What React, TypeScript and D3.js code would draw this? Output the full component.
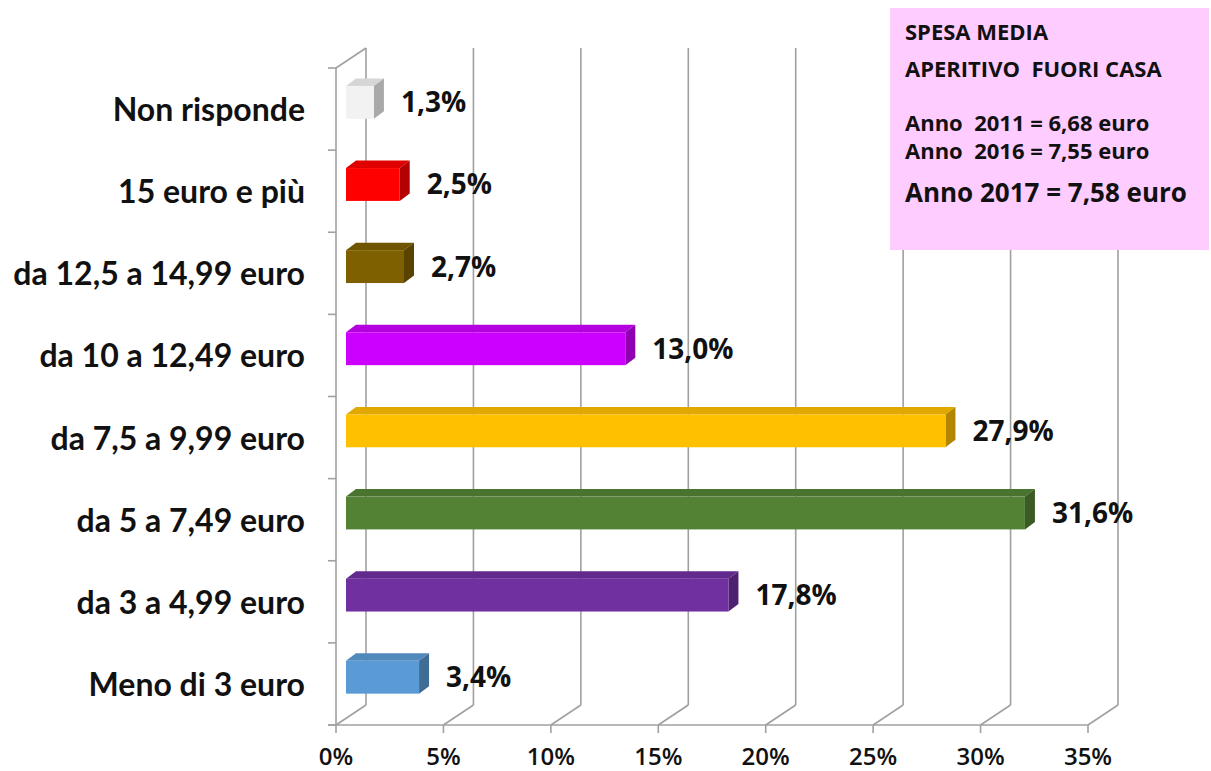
import React from "react";
import * as d3 from "d3";

const categories = [
  "Non risponde",
  "15 euro e più",
  "da 12,5 a 14,99 euro",
  "da 10 a 12,49 euro",
  "da 7,5 a 9,99 euro",
  "da 5 a 7,49 euro",
  "da 3 a 4,99 euro",
  "Meno di 3 euro",
];
const values = [1.3, 2.5, 2.7, 13.0, 27.9, 31.6, 17.8, 3.4];
const valueLabels = ["1,3%", "2,5%", "2,7%", "13,0%", "27,9%", "31,6%", "17,8%", "3,4%"];
const barColors = ["#F2F2F2", "#FF0000", "#7F6000", "#CC00FF", "#FFC000", "#548235", "#7030A0", "#5B9BD5"];
const tickValues = [0, 5, 10, 15, 20, 25, 30, 35];
const infoTitle = ["SPESA MEDIA", "APERITIVO  FUORI CASA"];
const infoYears = ["Anno  2011 = 6,68 euro", "Anno  2016 = 7,55 euro"];
const infoCurrent = "Anno 2017 = 7,58 euro";

const W = 1211;
const H = 771;
const LATO = "Lato, 'Open Sans', sans-serif";
const OPEN = "'Open Sans', Lato, sans-serif";

export default function App() {
  const left = 336;
  const right = 1088;
  const top = 68;
  const bottom = 725;
  const wallDx = 30;
  const wallDy = -20;
  const barDx = 10;
  const barDy = -6.7;
  const depthDx = 10;
  const depthDy = -7.5;

  const x = d3.scaleLinear().domain([0, 35]).range([left, right]);
  const y = d3
    .scaleBand<string>()
    .domain(categories)
    .range([top, bottom])
    .paddingInner(0.6)
    .paddingOuter(0.3);
  const grid = "#A0A0A0";

  const boundaries = d3.range(categories.length + 1).map((i) => top + i * ((bottom - top) / categories.length));

  return (
    <svg
      width={W}
      height={H}
      style={{ position: "absolute", left: 0, top: 0, background: "#fff" }}
    >
      <rect width={W} height={H} fill="#fff" />
      {tickValues.map((t) => (
        <g key={"g" + t}>
          <line x1={x(t) + wallDx} x2={x(t) + wallDx} y1={top + wallDy} y2={bottom + wallDy} stroke={grid} strokeWidth={1.6} />
          <line x1={x(t)} x2={x(t) + wallDx} y1={bottom} y2={bottom + wallDy} stroke={grid} strokeWidth={1.6} />
          <line x1={x(t)} x2={x(t)} y1={bottom} y2={bottom + 8} stroke={grid} strokeWidth={1.6} />
        </g>
      ))}
      <line x1={left} x2={left} y1={top} y2={bottom} stroke={grid} strokeWidth={1.6} />
      <line x1={left} x2={left + wallDx} y1={top} y2={top + wallDy} stroke={grid} strokeWidth={1.6} />
      {boundaries.map((b, i) => (
        <line key={"b" + i} x1={left - 8} x2={left} y1={b} y2={b} stroke={grid} strokeWidth={1.6} />
      ))}
      <line x1={left - 8} x2={right} y1={bottom} y2={bottom} stroke={grid} strokeWidth={1.6} />

      {categories.map((c, i) => {
        const x1 = x(0) + barDx;
        const x2 = x(values[i]) + barDx;
        const y1 = (y(c) as number) + barDy;
        const y2 = y1 + y.bandwidth();
        const base = d3.color(barColors[i])!;
        const topC = base.darker(0.35).formatHex();
        const sideC = base.darker(1.0).formatHex();
        const topPts = [
          [x1, y1],
          [x2, y1],
          [x2 + depthDx, y1 + depthDy],
          [x1 + depthDx, y1 + depthDy],
        ];
        const sidePts = [
          [x2, y1],
          [x2 + depthDx, y1 + depthDy],
          [x2 + depthDx, y2 + depthDy],
          [x2, y2],
        ];
        const center = (y(c) as number) + y.bandwidth() / 2;
        return (
          <g key={c}>
            <polygon points={topPts.map((p) => p.join(",")).join(" ")} fill={topC} />
            <polygon points={sidePts.map((p) => p.join(",")).join(" ")} fill={sideC} />
            <rect x={x1} y={y1} width={x2 - x1} height={y2 - y1} fill={barColors[i]} />
            <text
              x={x2 + depthDx + 17}
              y={(y1 + y2) / 2 + 10}
              fontFamily={OPEN}
              fontSize={28}
              fontWeight={700}
              fill="#111"
            >
              {valueLabels[i]}
            </text>
            <text
              x={305}
              y={center + 12}
              textAnchor="end"
              fontFamily={LATO}
              fontSize={32}
              fontWeight={700}
              fill="#111"
            >
              {c}
            </text>
          </g>
        );
      })}

      {tickValues.map((t) => (
        <text key={"t" + t} x={x(t)} y={765} textAnchor="middle" fontFamily={OPEN} fontSize={24} fontWeight={600} fill="#111">
          {t + "%"}
        </text>
      ))}

      <rect x={890} y={8} width={319} height={242} fill="#FFCCFF" />
      {infoTitle.map((s, i) => (
        <text key={"it" + i} x={905} y={40 + i * 37} fontFamily={OPEN} fontSize={22} fontWeight={700} fill="#111" style={{ whiteSpace: "pre" }}>
          {s}
        </text>
      ))}
      {infoYears.map((s, i) => (
        <text key={"iy" + i} x={905} y={131 + i * 28} fontFamily={OPEN} fontSize={22} fontWeight={700} fill="#111" style={{ whiteSpace: "pre" }}>
          {s}
        </text>
      ))}
      <text x={905} y={202} fontFamily={OPEN} fontSize={26} fontWeight={700} fill="#111">
        {infoCurrent}
      </text>
    </svg>
  );
}
